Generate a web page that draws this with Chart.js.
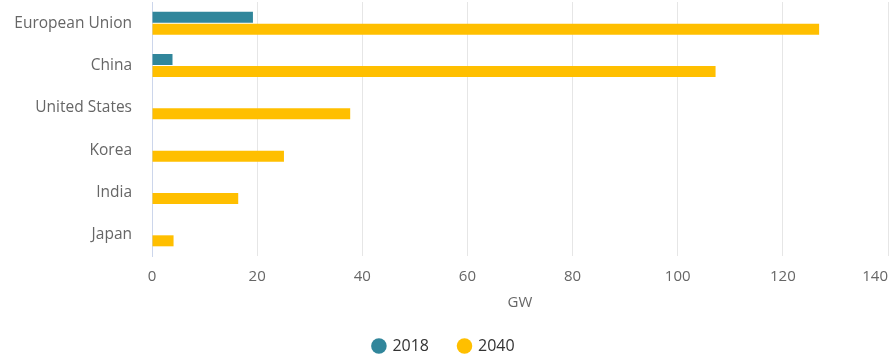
<!DOCTYPE html>
<html>
<head>
<meta charset="utf-8">
<script src="https://cdn.jsdelivr.net/npm/chart.js@4/dist/chart.umd.min.js"></script>
<style>
  html, body { margin: 0; padding: 0; background: #ffffff; }
  #wrap { width: 893px; height: 354px; }
</style>
</head>
<body>
<div id="wrap"><canvas id="chart" width="893" height="354"></canvas></div>
<script>
// Installed capacity by region, GW
const regions = ['European Union', 'China', 'United States', 'Korea', 'India', 'Japan'];
const capacity2018 = [19.2, 3.9, 0, 0, 0, 0];
const capacity2040 = [126.9, 107.2, 37.7, 25.1, 16.4, 4.1];
const seriesNames = ['2018', '2040'];
const xTicks = [0, 20, 40, 60, 80, 100, 120, 140];
const unitLabel = 'GW';

const TEAL = '#31869b';
const GOLD = '#ffbf00';
const FONT = '"Open Sans", "DejaVu Sans", sans-serif';

// Keeps the last x tick label inside the canvas by right-aligning it on its gridline
const lastTickInside = {
  id: 'lastTickInside',
  beforeDraw(chart) {
    const items = chart.scales.x.getLabelItems();
    const last = items[items.length - 1];
    if (last) {
      last.options.textAlign = 'right';
    }
  }
};

new Chart(document.getElementById('chart'), {
  type: 'bar',
  data: {
    labels: regions,
    datasets: [
      { label: seriesNames[0], data: capacity2018, backgroundColor: TEAL, borderWidth: 0 },
      { label: seriesNames[1], data: capacity2040, backgroundColor: GOLD, borderWidth: 0 }
    ]
  },
  options: {
    indexAxis: 'y',
    responsive: false,
    animation: false,
    categoryPercentage: 0.565,
    barPercentage: 0.92,
    layout: { padding: { top: 2, right: 5, bottom: -10, left: 0 } },
    scales: {
      x: {
        min: 0,
        max: 140,
        afterBuildTicks(scale) { scale.ticks = xTicks.map(v => ({ value: v })); },
        afterFit(scale) { scale.paddingLeft = 0; scale.paddingRight = 0; },
        grid: { color: '#e6e6e6', lineWidth: 1, drawTicks: false },
        border: { display: false },
        ticks: { color: '#666666', font: { family: FONT, size: 15 }, padding: 12, maxRotation: 0 },
        title: {
          display: true, text: unitLabel, color: '#666666',
          font: { family: FONT, size: 15 }, padding: { top: -4, bottom: -4 }
        }
      },
      y: {
        afterFit(scale) { scale.width = 152; scale.paddingTop = 0; scale.paddingBottom = 0; },
        grid: { display: false, drawTicks: false },
        border: { display: true, color: '#ccd6eb', width: 1 },
        ticks: { color: '#666666', font: { family: FONT, size: 15.5 }, padding: 20 }
      }
    },
    plugins: {
      legend: {
        position: 'bottom',
        labels: {
          usePointStyle: true,
          pointStyle: 'circle',
          boxWidth: 11,
          boxHeight: 11,
          padding: 30,
          color: '#333333',
          font: { family: FONT, size: 16 }
        }
      },
      tooltip: { enabled: false }
    }
  },
  plugins: [lastTickInside]
});
</script>
</body>
</html>
